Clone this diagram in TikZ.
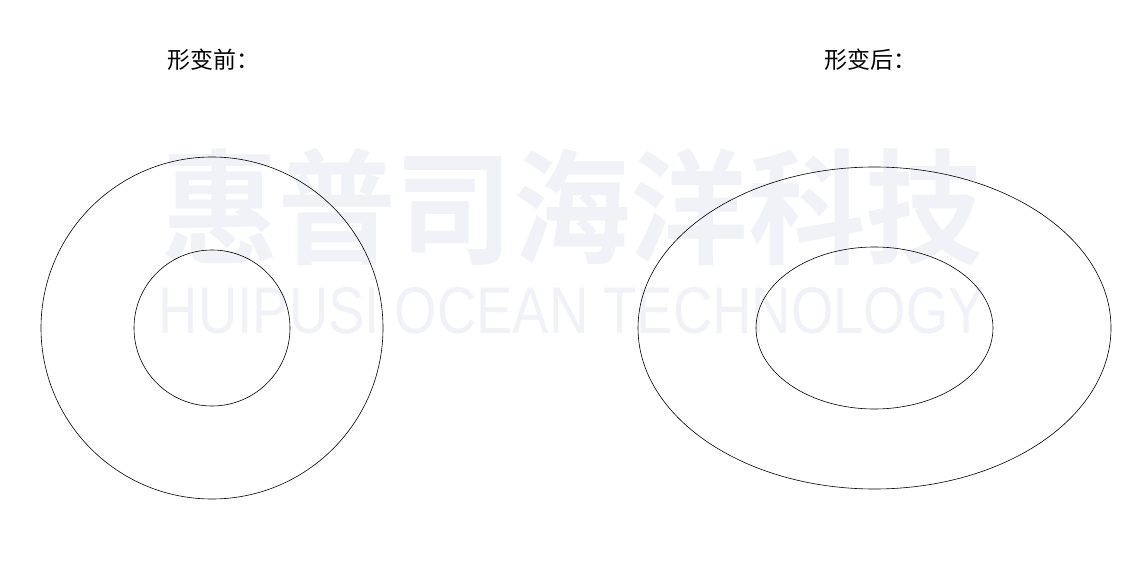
\documentclass[tikz,border=0pt]{standalone}
\usepackage{fontspec}
\setmainfont{Liberation Sans}
\newfontfamily\cjk{Noto Sans CJK SC}
\newfontfamily\cjkbold{Noto Sans CJK SC Bold}
\definecolor{wm}{HTML}{F0F2F7}
\begin{document}
\begin{tikzpicture}[x=1pt,y=-1pt,
  shapeline/.style={draw=black,line width=0.6pt},
  lbl/.style={font=\cjk\fontsize{23}{26}\selectfont,inner sep=0pt}]
\useasboundingbox[fill=white] (0,0) rectangle (1148,569);
% watermark
\node[inner sep=0pt,text=wm] (wmcn) at (572,207) {\resizebox{822pt}{106pt}{\cjkbold 惠普司海洋科技}};
\node[inner sep=0pt,text=wm] (wmen) at (572,311) {\resizebox{826pt}{46pt}{\fontspec{Liberation Sans} HUIPUSI OCEAN TECHNOLOGY}};
% labels
\node[lbl] (before) at (213,60) {形变前：};
\node[lbl] (after) at (870,60) {形变后：};
% shapes
\draw[shapeline] (212,328) circle[radius=171];
\draw[shapeline] (212,328) circle[radius=78];
\draw[shapeline] (874.5,328) ellipse[x radius=236.5,y radius=161];
\draw[shapeline] (874.5,328) ellipse[x radius=118.5,y radius=81];
\end{tikzpicture}
\end{document}
